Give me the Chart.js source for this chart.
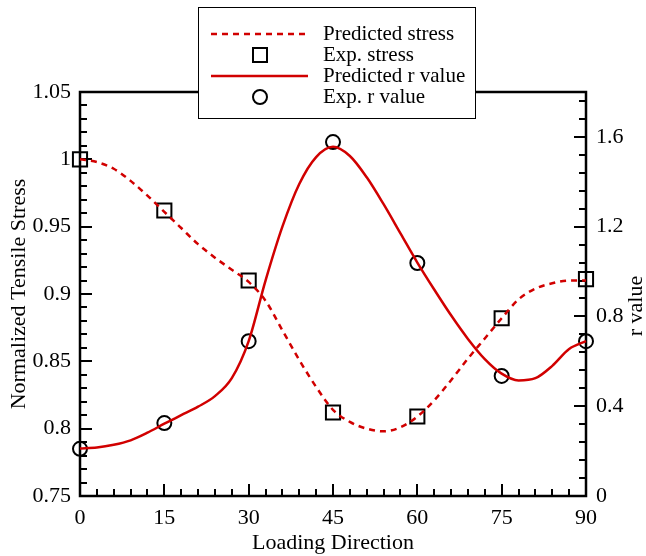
<!DOCTYPE html>
<html>
<head>
<meta charset="utf-8">
<script src="https://cdn.jsdelivr.net/npm/chart.js@4/dist/chart.umd.min.js"></script>
<style>
  html, body { margin: 0; padding: 0; background: #fff; }
  #wrap { width: 646px; height: 556px; }
</style>
</head>
<body>
<div id="wrap"><canvas id="chart" width="646" height="556"></canvas></div>
<script>
// measured points
const angles = [0, 15, 30, 45, 60, 75, 90];
const expStress = [1.0, 0.962, 0.91, 0.812, 0.809, 0.882, 0.911];
const expR = [0.21, 0.325, 0.69, 1.577, 1.038, 0.535, 0.69];

// predicted curves
const curveAngles = [0, 3, 6, 9, 12, 15, 18, 21, 24, 27, 30, 33, 36, 39, 42, 45,
                     48, 51, 54, 57, 60, 63, 66, 69, 72, 75, 78, 81, 84, 87, 90];
const predStress = [1.000, 0.998, 0.993, 0.984, 0.973, 0.961, 0.949, 0.937, 0.927, 0.918, 0.909,
                    0.895, 0.873, 0.851, 0.831, 0.814, 0.805, 0.800, 0.798, 0.801, 0.809,
                    0.821, 0.836, 0.852, 0.867, 0.882, 0.896, 0.904, 0.908, 0.910, 0.910];
const predR = [0.212, 0.216, 0.228, 0.248, 0.282, 0.322, 0.360, 0.398, 0.445, 0.525, 0.690,
               0.960, 1.200, 1.390, 1.510, 1.556, 1.515, 1.420, 1.300, 1.170, 1.040,
               0.920, 0.805, 0.700, 0.610, 0.545, 0.515, 0.525, 0.580, 0.655, 0.690];

// tick labels
const xTicks = [0, 15, 30, 45, 60, 75, 90];
const stressTicks = [0.75, 0.8, 0.85, 0.9, 0.95, 1, 1.05];
const rTicks = [0, 0.4, 0.8, 1.2, 1.6];

const RED = '#d10000';
const FONT = "'Liberation Serif', 'Times New Roman', serif";

const pts = (xs, ys) => xs.map((x, i) => ({ x: x, y: ys[i] }));

// inward ticks + frame
const framePlugin = {
  id: 'frame',
  beforeDatasetsDraw(chart) {
    const { ctx, chartArea: a, scales } = chart;
    ctx.save();
    ctx.strokeStyle = '#000';
    ctx.lineWidth = 2;
    ctx.beginPath();
    // bottom ticks, minor every 3
    for (let v = 0; v <= 90; v += 3) {
      const px = Math.round(scales.x.getPixelForValue(v));
      const len = v % 15 === 0 ? 12 : 7;
      ctx.moveTo(px, a.bottom); ctx.lineTo(px, a.bottom - len);
    }
    // left ticks, minor every 0.01
    for (let i = 0; i <= 30; i++) {
      const py = Math.round(scales.y.getPixelForValue(0.75 + i * 0.01));
      const len = i % 5 === 0 ? 12 : 7;
      ctx.moveTo(a.left, py); ctx.lineTo(a.left + len, py);
    }
    // right ticks, minor every 0.08
    for (let i = 0; i <= 22; i++) {
      const py = Math.round(scales.y1.getPixelForValue(i * 0.08));
      const len = i % 5 === 0 ? 12 : 7;
      ctx.moveTo(a.right, py); ctx.lineTo(a.right - len, py);
    }
    ctx.stroke();
    ctx.lineWidth = 2.5;
    ctx.strokeRect(a.left, a.top, a.right - a.left, a.bottom - a.top);
    ctx.restore();
  },
  afterDraw(chart) {
    const { ctx } = chart;
    ctx.save();
    // right axis title, reading upward
    ctx.font = '22px ' + FONT;
    ctx.fillStyle = '#000';
    ctx.textAlign = 'center';
    ctx.textBaseline = 'middle';
    ctx.translate(636, 306);
    ctx.rotate(-Math.PI / 2);
    ctx.fillText('r value', 0, 0);
    ctx.restore();

    // legend box
    ctx.save();
    ctx.fillStyle = '#fff';
    ctx.fillRect(198, 7, 277, 111);
    ctx.strokeStyle = '#000';
    ctx.lineWidth = 1;
    ctx.strokeRect(198.5, 7.5, 277, 111);
    const rows = [34, 55, 76, 97];
    chart.data.datasets.forEach((ds, i) => {
      const y = rows[i];
      if (ds.showLine !== false) {
        ctx.strokeStyle = ds.borderColor;
        ctx.lineWidth = ds.borderWidth;
        ctx.setLineDash(ds.borderDash || []);
        ctx.beginPath();
        ctx.moveTo(211, y); ctx.lineTo(308, y);
        ctx.stroke();
        ctx.setLineDash([]);
      } else {
        ctx.strokeStyle = '#000';
        ctx.lineWidth = 2;
        ctx.beginPath();
        if (ds.pointStyle === 'rect') ctx.rect(253, y - 7, 14, 14);
        else ctx.arc(260, y, 7, 0, Math.PI * 2);
        ctx.stroke();
      }
      ctx.fillStyle = '#000';
      ctx.font = '21px ' + FONT;
      ctx.textAlign = 'left';
      ctx.textBaseline = 'middle';
      ctx.fillText(ds.label, 323, y);
    });
    ctx.restore();
  }
};

const tickFont = { family: FONT, size: 22 };

new Chart(document.getElementById('chart'), {
  type: 'line',
  data: {
    datasets: [
      {
        label: 'Predicted stress', data: pts(curveAngles, predStress), yAxisID: 'y',
        borderColor: RED, borderWidth: 2.5, borderDash: [6, 5], pointRadius: 0,
        cubicInterpolationMode: 'monotone', fill: false, clip: false
      },
      {
        label: 'Exp. stress', data: pts(angles, expStress), yAxisID: 'y', showLine: false,
        pointStyle: 'rect', pointRadius: 10, borderColor: '#000', borderWidth: 2,
        backgroundColor: 'rgba(0,0,0,0)', clip: false
      },
      {
        label: 'Predicted r value', data: pts(curveAngles, predR), yAxisID: 'y1',
        borderColor: RED, borderWidth: 2.5, pointRadius: 0,
        cubicInterpolationMode: 'monotone', fill: false, clip: false
      },
      {
        label: 'Exp. r value', data: pts(angles, expR), yAxisID: 'y1', showLine: false,
        pointStyle: 'circle', pointRadius: 7, borderColor: '#000', borderWidth: 2,
        backgroundColor: 'rgba(0,0,0,0)', clip: false
      }
    ]
  },
  options: {
    responsive: false,
    animation: false,
    devicePixelRatio: 1,
    layout: { padding: { top: 92, left: 0, right: 0, bottom: 0 } },
    plugins: { legend: { display: false }, tooltip: { enabled: false } },
    scales: {
      x: {
        type: 'linear', position: 'bottom', min: 0, max: 90,
        grid: { display: false, drawTicks: false }, border: { display: false },
        afterBuildTicks: s => { s.ticks = xTicks.map(v => ({ value: v })); },
        afterFit: s => { s.height = 60; },
        ticks: { font: tickFont, color: '#000', padding: 9, maxRotation: 0 },
        title: { display: true, text: 'Loading Direction', color: '#000',
                 font: { family: FONT, size: 22, lineHeight: 1 }, padding: { top: 0, bottom: 2 } }
      },
      y: {
        type: 'linear', position: 'left', min: 0.75, max: 1.05,
        grid: { display: false, drawTicks: false }, border: { display: false },
        afterBuildTicks: s => { s.ticks = stressTicks.map(v => ({ value: v })); },
        afterFit: s => { s.width = 80; },
        ticks: { font: tickFont, color: '#000', padding: 9,
                 callback: v => String(+v.toFixed(2)) },
        title: { display: true, text: 'Normalized Tensile Stress', color: '#000',
                 font: { family: FONT, size: 22, lineHeight: 1 }, padding: { top: 8, bottom: 0 } }
      },
      y1: {
        type: 'linear', position: 'right', min: 0, max: 1.8,
        grid: { display: false, drawTicks: false }, border: { display: false },
        afterBuildTicks: s => { s.ticks = rTicks.map(v => ({ value: v })); },
        afterFit: s => { s.width = 60; },
        ticks: { font: tickFont, color: '#000', padding: 10,
                 callback: v => String(+v.toFixed(1)) }
      }
    }
  },
  plugins: [framePlugin]
});
</script>
</body>
</html>
